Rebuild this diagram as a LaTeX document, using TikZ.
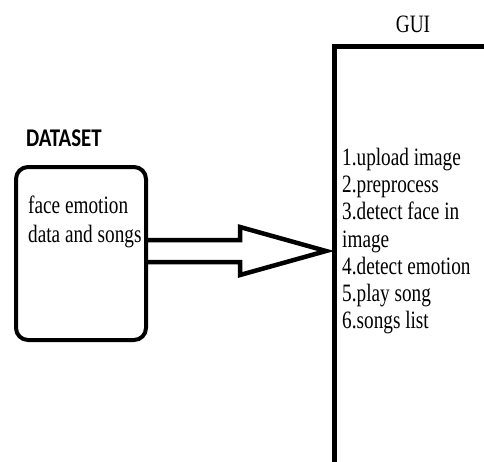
\documentclass[tikz,border=0pt]{standalone}
\usepackage{fontspec}
\setmainfont[FakeStretch=0.77]{Liberation Serif}
\newfontfamily\titlefont[FakeStretch=0.82]{Carlito}
\usetikzlibrary{calc}
\tikzset{
    heavy/.style={line width=4.5pt, line join=miter},
    databox/.style={draw, line width=4pt, rounded corners=12pt, minimum width=130pt, minimum height=173pt, inner sep=0pt},
    listtext/.style={inner sep=0pt, align=left, font=\fontsize{25}{27.2}\selectfont},
    boxtext/.style={inner sep=0pt, align=left, font=\fontsize{25}{29}\selectfont},
}

\begin{document}
\begin{tikzpicture}[x=1pt,y=-1pt]
\useasboundingbox (0,0) rectangle (484,461);
% dataset side
\node[databox] (dataset) at (81,253.5) {};
\node[inner sep=0pt, anchor=base, font=\fontsize{25.5}{25.5}\selectfont] (dstitle) at (64,146.5) {\titlefont\bfseries DATASET};
\node[boxtext, anchor=north west] (dsdesc) at (28,196) {face emotion\\data and songs};
% gui side
\coordinate (guicorner) at (334,46);
\coordinate (guiin) at (326,251);
\draw[line width=5pt] (guicorner -| 490,0) -- (guicorner) -- (guicorner |- 0,470);
\node[inner sep=0pt, anchor=base, font=\fontsize{25}{25}\selectfont] (guititle) at (413,32) {GUI};
\node[listtext, anchor=north west] (guilist) at (342,148) {1.upload image\\2.preprocess\\3.detect face in\\image\\4.detect emotion\\5.play song\\6.songs list};
% block arrow
\draw[heavy] ($(dataset.east |- guiin)+(0,-11)$) -| ($(guiin)+(-86,-24)$) -- (guiin)
    -- ($(guiin)+(-86,24)$) |- ($(dataset.east |- guiin)+(0,11)$);
\end{tikzpicture}
\end{document}
